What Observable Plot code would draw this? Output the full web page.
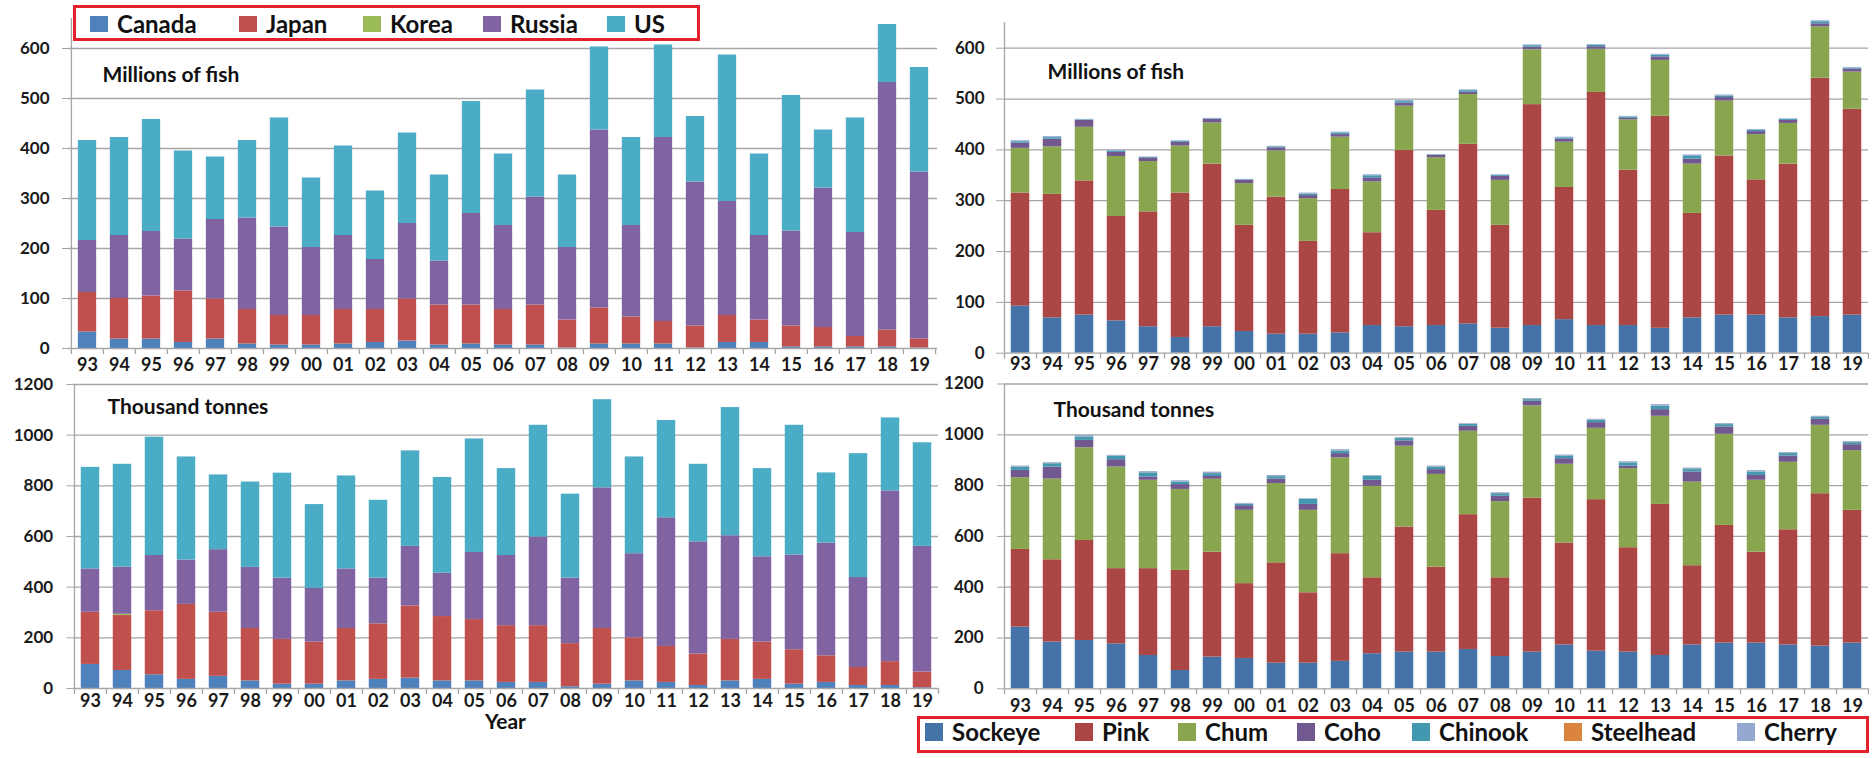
<!DOCTYPE html>
<html><head><meta charset="utf-8">
<script src="https://cdn.jsdelivr.net/npm/d3@7"></script>
<script src="https://cdn.jsdelivr.net/npm/@observablehq/plot@0.6"></script>
<style>
body{margin:0;background:#fff;width:1874px;height:758px;overflow:hidden;font-family:Lato,"Open Sans",sans-serif;}
#root{position:relative;width:1874px;height:758px;}
.panel{position:absolute;}
.legend{position:absolute;border:3px solid #e3202b;box-sizing:border-box;}
.item{position:absolute;display:flex;align-items:center;font-weight:700;font-size:24px;color:#111;white-space:nowrap;height:26px;line-height:26px;}
.sw{display:inline-block;width:18px;margin-right:9px;}
#year{position:absolute;font-weight:700;font-size:21px;color:#111;line-height:16px;height:16px;}
</style></head><body><div id="root"></div>
<script>
const years = ["93","94","95","96","97","98","99","00","01","02","03","04","05","06","07","08","09","10","11","12","13","14","15","16","17","18","19"];

// Millions of fish by country
const fishCanada = [33,19,19,12,19,9,7,7,9,12,15,7,9,7,7,1,9,9,9,1,12,12,3,3,3,3,1];
const fishJapan  = [79,81,86,103,80,69,59,59,69,66,84,80,78,71,80,56,72,54,45,44,54,45,42,39,21,34,18];
const fishKorea  = [0,0,0,0,0,0,0,0,0,0,0,0,0,0,0,0,0,0,0,0,0,0,0,0,0,0,0];
const fishRussia = [104,126,129,104,159,183,177,136,148,100,151,88,183,168,216,145,356,183,368,288,228,169,190,279,208,495,334];
const fishUS     = [200,196,224,176,125,155,218,139,179,137,181,172,224,143,214,145,166,176,185,131,293,163,271,116,229,116,209];

// Thousand tonnes by country
const tonCanada = [95,71,54,36,48,30,17,17,30,36,41,30,30,24,24,7,17,30,24,12,30,36,17,24,12,12,3];
const tonJapan  = [206,217,253,296,253,207,177,166,207,219,285,254,242,224,224,170,220,170,142,124,164,147,136,105,71,94,62];
const tonKorea  = [0,5,0,0,0,0,0,0,0,0,0,0,0,0,0,0,0,0,0,0,0,0,0,0,0,0,0];
const tonRussia = [171,186,218,175,247,241,242,212,235,181,235,171,265,277,350,259,555,332,508,443,409,337,374,445,355,674,496];
const tonUS     = [401,406,467,407,295,337,414,331,367,307,377,378,448,343,441,331,348,382,384,306,506,348,512,277,489,288,409];

// Millions of fish by species
const fishSockeye   = [92.5,69.5,75,63.6,52,31,52,42.6,37.4,37.4,40,54.4,52,54.4,57.7,49.2,54.4,66,54.4,54.4,49,69.5,75,75,69.5,72,75];
const fishPink      = [222.5,243,264,205.4,226,284,320,209,269.6,182.6,282,182.6,347,226.6,353.3,202.4,434.6,260,458.6,305.6,417,205.5,313,266,302.5,469,405];
const fishChum      = [88,93.5,105.5,118,99,92.5,81,82,91,84,103,100,87,103.5,98,88.4,108,89,85,99,110,97,108,89,80,101,73];
const fishCoho      = [10,15,13.5,8,7,7.5,7,6.5,6,6,5,8,6,4.5,4.5,8,5,6,5,3,7,10,7,6,6,6,6];
const fishChinook   = [3,3,1,2.5,1,2,1,1,2,3,3,4,3,1,3,2,3,2.5,2.5,2.5,3,5,3,2.5,2,4,2];
const fishSteelhead = [0,0,0,0,0,0,0,0,0,0,0,0,0,0,0,0,0,0,0,0,0,0,0,0,0,0,0];
const fishCherry    = [2,2,1,1.5,1,1,1,1,1,2,2,2,2,1,1.5,1,1.5,1.5,1.5,1.5,2,3,2,1.5,1,2,1];

// Thousand tonnes by species
const tonSockeye   = [243,184,190,177,131,72,125,119.5,101,101,108,138,144.5,144.5,155,127,144.5,173,148,144.5,131,173,180,180,173,168,180];
const tonPink      = [306,324,394,296,342,394,413,294.5,395,277,424,299,492.5,334.5,530.5,310,606.5,401,596.6,411,595,311.6,463.5,358,453,600,522.6];
const tonChum      = [282,318,365,400,348,319,287,288.6,312,324.6,377,360,318,365,328.5,300,362.6,310,281,311.2,347,329.4,358.5,283,265.7,269.4,235];
const tonCoho      = [29,47,29,29,13,19,11,18.4,18,23.4,17,24,21,19,19.5,21,18.4,22,22.4,10.3,26,39.6,29,19,24.9,23.6,23.4];
const tonChinook   = [13,13,13,13,16,10,11,5,9,20,10,15.5,9,10,7.5,10,6.5,10.6,9,12,13,9.4,9,13.6,9.2,9,8];
const tonSteelhead = [0.5,0.5,0.5,0.5,0.5,0.5,0.5,0.5,0.5,0.5,0.5,0.5,0.5,0.5,0.5,0.5,0.5,0.5,0.5,0.5,0.5,0.5,0.5,0.5,0.5,0.5,0.5];
const tonCherry    = [3.5,3.5,6.5,3.5,4.5,4.5,5.5,3.5,4.5,2,5,3,3.5,3.5,2.5,3.5,3.5,3.4,3.5,4.5,6.5,5.5,3.5,4.9,3.7,2.5,3.5];

const countries = ["Canada","Japan","Korea","Russia","US"];
const countryColors = ["#4F81BD","#C0504D","#9BBB59","#8064A2","#4BACC6"];
const species = ["Sockeye","Pink","Chum","Coho","Chinook","Steelhead","Cherry"];
const speciesColors = ["#4572A7","#AA4643","#89A54E","#71588F","#4198AF","#DB843D","#93A9CF"];

const fishTicks = [0,100,200,300,400,500,600];
const tonTicks = [0,200,400,600,800,1000,1200];

const GRID = "#a6a6a6";
const root = document.getElementById("root");

function panel(cfg) {
  const rows = [];
  cfg.series.forEach((vals, s) => vals.forEach((v, i) => rows.push({year: years[i], series: cfg.names[s], value: v})));
  const step = cfg.plotW / years.length;
  const inset = (step - 18.5) / 2;
  const pxPerUnit = cfg.plotH / cfg.yMax;
  const tickLen = 6 / pxPerUnit;
  const mb = 34;
  const chart = Plot.plot({
    width: cfg.marginLeft + cfg.plotW + 4,
    height: cfg.marginTop + cfg.plotH + mb,
    marginLeft: cfg.marginLeft, marginRight: 4, marginTop: cfg.marginTop, marginBottom: mb,
    style: {background: "transparent", overflow: "visible", fontFamily: "Lato, 'Open Sans', sans-serif", color: "#1a1a1a"},
    x: {domain: years, padding: 0, axis: null},
    y: {domain: [0, cfg.yMax], axis: null},
    color: {domain: cfg.names, range: cfg.colors},
    marks: [
      Plot.ruleY(cfg.yTicks.filter(t => t > 0), {stroke: GRID, strokeWidth: 1.3}),
      Plot.barY(rows, {x: "year", y: "value", fill: "series", insetLeft: inset, insetRight: inset}),
      Plot.ruleY([0], {stroke: GRID, strokeWidth: 1.3}),
      Plot.ruleX([years[0]], {dx: -step / 2, y1: () => 0, y2: () => cfg.yMax, stroke: GRID, strokeWidth: 1.3}),
      Plot.ruleX(years, {dx: -step / 2, y1: () => 0, y2: () => -tickLen, stroke: GRID, strokeWidth: 1.3}),
      Plot.ruleX([years[years.length - 1]], {dx: step / 2, y1: () => 0, y2: () => -tickLen, stroke: GRID, strokeWidth: 1.3}),
      Plot.axisY(cfg.yTicks, {tickSize: cfg.ySize, tickPadding: cfg.yPad, tickFormat: d => String(d), stroke: GRID, fill: "#1a1a1a", fontSize: 17, fontWeight: "bold", label: null}),
      Plot.axisX({tickSize: 0, tickPadding: cfg.xPad, fill: "#1a1a1a", fontSize: 18, fontWeight: "bold", label: null}),
      Plot.text([cfg.subtitle], {frameAnchor: "top-left", dx: cfg.subDx, dy: cfg.subDy, textAnchor: "start", lineAnchor: "middle", fontSize: 21, fontWeight: "bold", fill: "#111"})
    ]
  });
  const div = document.createElement("div");
  div.className = "panel";
  div.style.left = cfg.left + "px";
  div.style.top = cfg.top + "px";
  div.appendChild(chart);
  root.appendChild(div);
}

panel({names: countries, colors: countryColors, series: [fishCanada, fishJapan, fishKorea, fishRussia, fishUS],
  left: 0, top: 0, marginLeft: 68, marginTop: 18, plotW: 869, plotH: 330, yMax: 660, yTicks: fishTicks,
  ySize: 6, yPad: 13, xPad: 9.5, subtitle: "Millions of fish", subDx: 34, subDy: 57});
panel({names: species, colors: speciesColors, series: [fishSockeye, fishPink, fishChum, fishCoho, fishChinook, fishSteelhead, fishCherry],
  left: 944, top: 0, marginLeft: 60, marginTop: 22.3, plotW: 864, plotH: 330.4, yMax: 650, yTicks: fishTicks,
  ySize: 8, yPad: 12, xPad: 4.5, subtitle: "Millions of fish", subDx: 43, subDy: 49});
panel({names: countries, colors: countryColors, series: [tonCanada, tonJapan, tonKorea, tonRussia, tonUS],
  left: 0, top: 370, marginLeft: 73, marginTop: 14, plotW: 865, plotH: 304, yMax: 1200, yTicks: tonTicks,
  ySize: 6.6, yPad: 13.7, xPad: 5.5, subtitle: "Thousand tonnes", subDx: 34, subDy: 23});
panel({names: species, colors: speciesColors, series: [tonSockeye, tonPink, tonChum, tonCoho, tonChinook, tonSteelhead, tonCherry],
  left: 944, top: 370, marginLeft: 60, marginTop: 13.5, plotW: 864, plotH: 304.8, yMax: 1200, yTicks: tonTicks,
  ySize: 7, yPad: 14, xPad: 10, subtitle: "Thousand tonnes", subDx: 49, subDy: 26.5});

function legend(box, names, colors, xs, swH, itemTop) {
  const lg = document.createElement("div");
  lg.className = "legend";
  Object.assign(lg.style, {left: box[0] + "px", top: box[1] + "px", width: box[2] + "px", height: box[3] + "px"});
  root.appendChild(lg);
  names.forEach((n, i) => {
    const it = document.createElement("div");
    it.className = "item";
    it.style.left = xs[i] + "px";
    it.style.top = itemTop + "px";
    it.innerHTML = `<span class="sw" style="height:${swH}px;background:${colors[i]}"></span>${n}`;
    root.appendChild(it);
  });
}
legend([73, 5, 627, 36], countries, countryColors, [90, 239, 363, 483, 607], 16, 11);
legend([917, 716, 952, 37], species, speciesColors, [925, 1075, 1178, 1297, 1412, 1564, 1737], 18, 719);

const yl = document.createElement("div");
yl.id = "year";
yl.textContent = "Year";
yl.style.left = "485px";
yl.style.top = "713px";
root.appendChild(yl);
</script>
</body></html>
